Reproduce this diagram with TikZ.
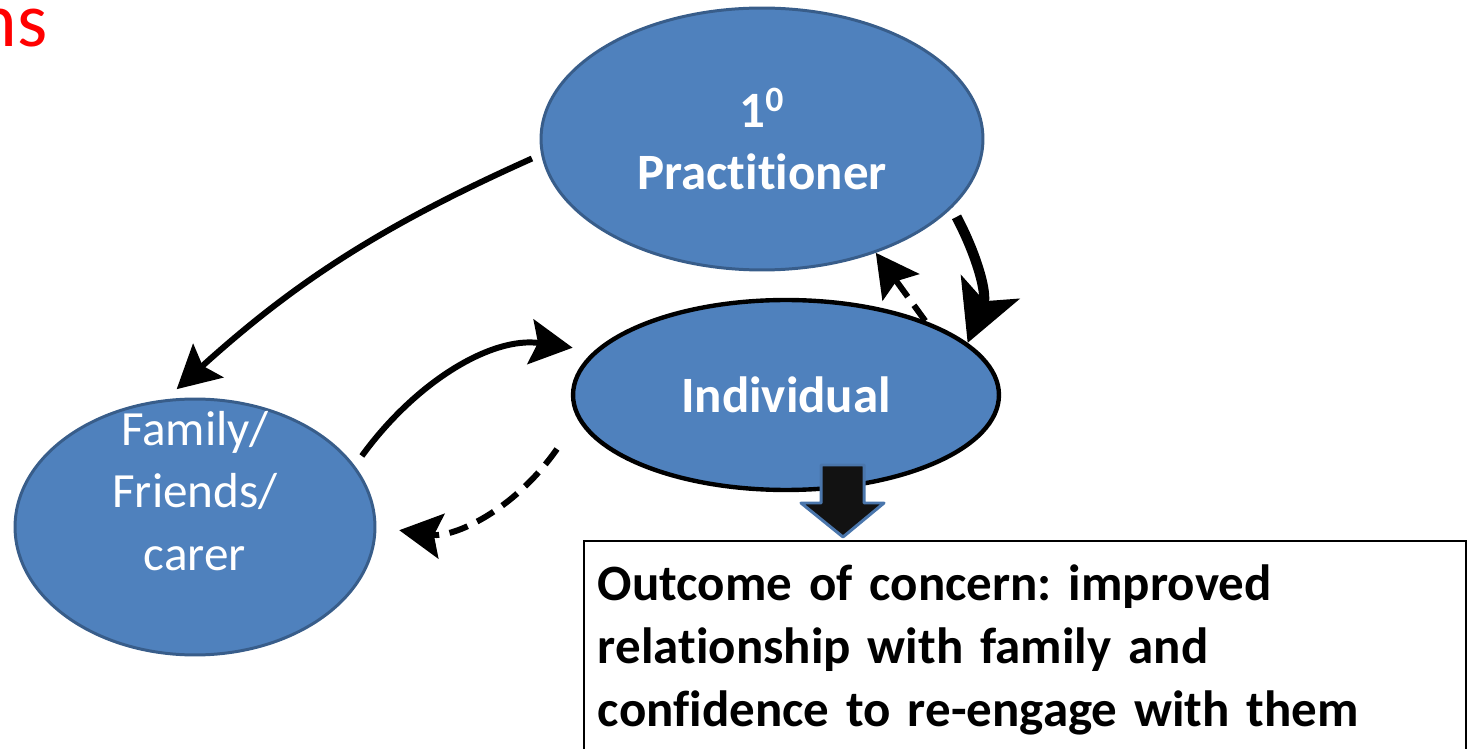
\documentclass[tikz,border=0pt]{standalone}
\usepackage{fontspec}
\setmainfont{Carlito}[RawFeature=-liga]
\usepackage{xcolor}
\usepackage{tikz}
\usetikzlibrary{shapes.geometric, arrows.meta, positioning, calc}

\definecolor{pptblue}{HTML}{4F81BD}
\definecolor{pptedge}{HTML}{385D8A}
\definecolor{arrowedge}{HTML}{4A76AC}
\frenchspacing

\begin{document}
\begin{tikzpicture}[
    x=0.02cm, y=-0.02cm,
    bubble/.style={ellipse, draw=pptedge, fill=pptblue, line width=1.7pt, inner sep=0pt, text=white, align=center, font=\fontsize{29}{35.5}\selectfont\bfseries},
    link/.style={-{Stealth[length=0.85cm, width=0.9cm, inset=0.15cm]}, line width=3.4pt},
    backlink/.style={link, dash pattern=on 11pt off 6pt},
    biglink/.style={-{Stealth[length=1.2cm, width=1.25cm, inset=0.3cm]}, line width=5.8pt}
]
\useasboundingbox (0,0) rectangle (1470,749);
\clip (0,0) rectangle (1470,749);

% Title fragment
\node[text=red, font=\fontsize{44}{52}\selectfont, anchor=base east, inner sep=0pt] (title) at (48,47) {ns};

% People
\node[bubble, minimum width=8.84cm, minimum height=5.24cm] (prac) at (762,139) {1\textsuperscript{0}\\Practitioner};
\node[bubble, draw=black, line width=2.5pt, minimum width=8.52cm, minimum height=3.8cm] (indiv) at (786,395) {Individual};
\node[bubble, minimum width=7.2cm, minimum height=5.12cm] (fam) at (195,527) {};
\node[text=white, align=center, font=\fontsize{28}{35.5}\selectfont] (famtext) at (195,491) {Family/\\Friends/\\carer};

% Outcome
\node[draw, line width=1.1pt, anchor=north west, text width=17.08cm, inner xsep=0.28cm, inner ysep=0.48cm, align=left, font=\fontsize{29}{35.7}\selectfont\bfseries] (outcome) at (583,540) {Outcome of concern: improved\\relationship with family and\\confidence to re-engage with them\\[0.3cm]};
\filldraw[fill=black!93, draw=arrowedge, line width=1.7pt, line join=round]
    (821,465) -- (864,465) -- (864,503) -- (884,503) -- (843,537) -- (801,503) -- (821,503) -- cycle;

% Arrows
\coordinate (backstart) at (557,449);
\draw[link, shorten <=0.2cm, shorten >=0.3cm] (prac.184) to[bend right=9] (fam.103);
\draw[link, shorten <=0.24cm, shorten >=0.44cm] (fam.21) to[out=54, in=172] (indiv.167);
\draw[backlink, shorten >=0.46cm] (backstart) to[out=235, in=-8] (fam.0);
\draw[backlink] (indiv.28) -- (prac.-45);
\draw[biglink, shorten <=0.2cm] (prac.-20) to[out=-62, in=68] (indiv.16);

\end{tikzpicture}
\end{document}
